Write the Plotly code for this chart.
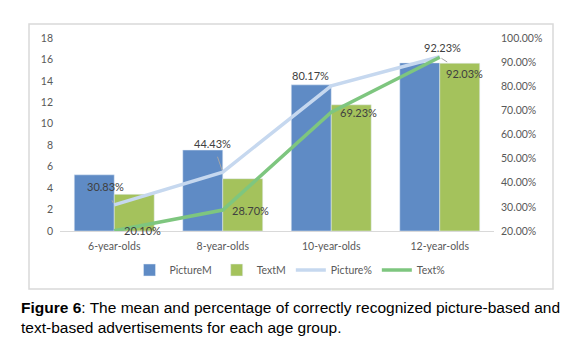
import plotly.graph_objects as go

categories = ["6-year-olds", "8-year-olds", "10-year-olds", "12-year-olds"]
picture_m = [5.24, 7.55, 13.63, 15.68]
text_m = [3.42, 4.88, 11.77, 15.65]
picture_pct = [0.3083, 0.4443, 0.8017, 0.9223]
text_pct = [0.2010, 0.2870, 0.6923, 0.9203]
left_ticks = [0, 2, 4, 6, 8, 10, 12, 14, 16, 18]
right_ticks = [0.2, 0.3, 0.4, 0.5, 0.6, 0.7, 0.8, 0.9, 1.0]

FONT = "Lato"
TXT = "#595959"

fig = go.Figure()
fig.add_trace(go.Bar(x=categories, y=picture_m, name="PictureM", marker_color="#5f8bc5"))
fig.add_trace(go.Bar(x=categories, y=text_m, name="TextM", marker_color="#a4c25c"))
fig.add_trace(go.Scatter(x=categories, y=picture_pct, name="Picture%", yaxis="y2",
                         mode="lines", line=dict(color="#c6d8ef", width=3.5)))
fig.add_trace(go.Scatter(x=categories, y=text_pct, name="Text%", yaxis="y2",
                         mode="lines", line=dict(color="#7ec67f", width=3.5)))

# label offsets (pixels) and leader flags
pic_off = [(-9, -18, True), (-10, -29, True), (-21, -10, False), (3, -9, False)]
txt_off = [(28, 0, False), (28, 0, False), (27, 0, False), (25, 16, True)]
for vals, offs in ((picture_pct, pic_off), (text_pct, txt_off)):
    for c, v, (dx, dy, lead) in zip(categories, vals, offs):
        fig.add_annotation(x=c, y=v, xref="x", yref="y2", text=f"{v*100:.2f}%",
                           showarrow=True, ax=dx, ay=dy, arrowhead=0, arrowwidth=1,
                           standoff=2, startstandoff=6,
                           arrowcolor="#a6a6a6" if lead else "rgba(0,0,0,0)",
                           font=dict(family=FONT, size=11, color="#404040"))

# chart border
fig.add_shape(type="rect", xref="paper", yref="paper",
              x0=(29 - 60) / 434, x1=(553 - 60) / 434,
              y0=(231 - 289) / 193, y1=(231 - 24) / 193,
              line=dict(color="#d9d9d9", width=1.5), layer="below")

# caption
fig.add_annotation(xref="paper", yref="paper", x=(19 - 60) / 434, y=(231 - 307) / 193,
                   xanchor="left", yanchor="middle", showarrow=False,
                   text="<b>Figure 6</b>: The mean and percentage of correctly recognized picture-based and",
                   font=dict(family="Liberation Sans", size=15.5, color="#000000"))
fig.add_annotation(xref="paper", yref="paper", x=(19 - 60) / 434, y=(231 - 327) / 193,
                   xanchor="left", yanchor="middle", showarrow=False,
                   text="text-based advertisements for each age group.",
                   font=dict(family="Liberation Sans", size=15.5, color="#000000"))

fig.update_layout(
    width=579, height=353,
    margin=dict(l=60, r=85, t=38, b=122),
    paper_bgcolor="white", plot_bgcolor="white",
    barmode="group", bargap=0.263, bargroupgap=0,
    font=dict(family=FONT, size=10.5, color=TXT),
    showlegend=True,
    legend=dict(orientation="h", x=(290 - 60) / 434, y=(231 - 270) / 193,
                xanchor="center", yanchor="middle", font=dict(size=10.5, color=TXT),
                itemwidth=30, tracegroupgap=0),
    xaxis=dict(showline=True, linecolor="#d9d9d9", linewidth=1, ticks="",
               showgrid=False, tickfont=dict(size=10.5, color=TXT), ticklabelstandoff=5),
    yaxis=dict(range=[0, 18], tickvals=left_ticks, showgrid=False, zeroline=False,
               showline=False, tickfont=dict(size=10.5, color=TXT), ticklabelstandoff=6),
    yaxis2=dict(range=[0.2, 1.0], tickvals=right_ticks, tickformat=".2%", overlaying="y",
                side="right", showgrid=False, zeroline=False, showline=False,
                tickfont=dict(size=10.5, color=TXT), ticklabelstandoff=6),
)

fig.write_html("out.html", config={"displayModeBar": False},
               post_script="document.body.style.margin='0';")
